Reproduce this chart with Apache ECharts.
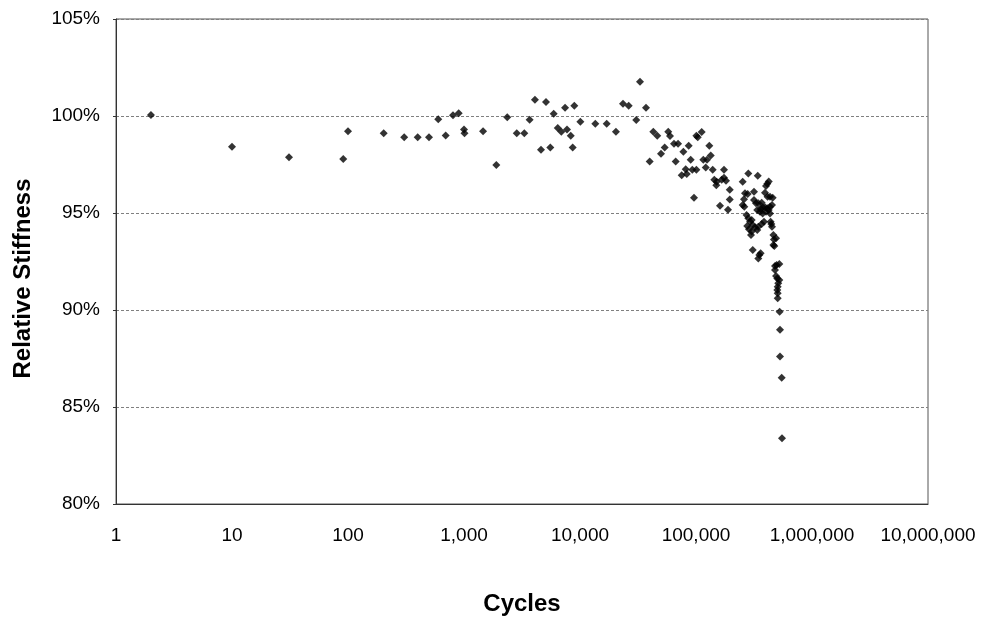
<!DOCTYPE html>
<html>
<head>
<meta charset="utf-8">
<title>Relative Stiffness vs Cycles</title>
<script src="https://cdn.jsdelivr.net/npm/echarts@6/dist/echarts.min.js"></script>
<style>
  html, body { margin: 0; padding: 0; background: #fff; }
  #chart { width: 991px; height: 621px; }
</style>
</head>
<body>
<div id="chart"></div>
<script>
// cycles (x, log scale) and relative stiffness in % (y)
var cycles = [
  2, 10, 31, 91, 100, 203, 305, 399, 499, 600,
  695, 804, 900, 1000, 1010, 1460, 1900, 2360, 2850, 3310,
  3680, 4090, 4610, 5090, 5550, 5930, 6430, 6900, 7430, 7730,
  8320, 8650, 8930, 10070, 13550, 16980, 20420, 23480, 26300, 32890,
  30550, 37070, 39900, 42850, 46360, 49890, 53700, 57680, 59700, 64600,
  70000, 66800, 77800, 86500, 90000, 75300, 81500, 83200, 92900, 100700,
  96100, 100700, 103500, 112000, 130300, 134000, 115600, 124400, 121300, 139300,
  174300, 143800, 150800, 149600, 166600, 174300, 181400, 195300, 195300, 161000,
  188800, 252700, 282600, 340600, 316200, 423600, 412000, 401200, 458400, 264400,
  279000, 259200, 393600, 414000, 434500, 252700, 260900, 316200, 329000, 344500,
  368200, 375600, 393600, 360600, 337400, 356300, 375600, 401200, 423600, 434500,
  412000, 434500, 451900, 272900, 282600, 302000, 292400, 308300, 322800, 337400,
  276600, 286400, 302000, 297900, 344500, 368200, 385500, 439800, 445900, 451900,
  308300, 360600, 351600, 344500, 464500, 470000, 489800, 464500, 473000, 522400,
  495500, 479800, 479800, 489800, 502600, 522400, 511900, 505800, 502600, 505800,
  505800, 526000, 530000, 530000, 548000, 551000
];
var stiffness = [
  100.05, 98.42, 97.87, 97.78, 99.21, 99.11, 98.9, 98.9, 98.9, 99.83,
  99.0, 100.04, 100.14, 99.31, 99.11, 99.21, 97.47, 99.93, 99.11, 99.11,
  99.81, 100.84, 98.26, 100.72, 98.37, 100.12, 99.38, 99.19, 100.43, 99.31,
  98.98, 98.37, 100.53, 99.71, 99.6, 99.6, 99.19, 100.63, 100.53, 101.77,
  99.79, 100.43, 97.66, 99.19, 98.98, 98.06, 98.37, 99.19, 98.97, 98.57,
  98.57, 97.66, 98.16, 98.47, 97.75, 96.94, 97.25, 97.01, 97.23, 97.23,
  95.79, 98.98, 98.9, 99.18, 98.47, 97.97, 97.75, 97.75, 97.34, 97.23,
  97.23, 96.72, 96.61, 96.43, 96.72, 96.82, 96.66, 96.2, 95.69, 95.38,
  95.17, 96.61, 97.03, 96.92, 96.1, 96.63, 96.51, 96.39, 95.79, 96.02,
  95.98, 95.71, 96.05, 95.84, 95.84, 95.41, 95.32, 95.67, 95.5, 95.5,
  95.53, 95.29, 95.29, 95.21, 95.15, 95.07, 94.98, 95.07, 95.15, 94.98,
  95.24, 95.32, 95.41, 94.9, 94.73, 94.64, 94.55, 94.38, 94.26, 94.12,
  94.33, 94.16, 94.04, 93.87, 94.29, 94.43, 94.55, 94.55, 94.43, 94.29,
  93.09, 92.92, 92.84, 92.66, 93.87, 93.64, 93.7, 93.35, 93.3, 92.37,
  92.32, 92.27, 92.06, 91.75, 91.63, 91.55, 91.38, 91.2, 91.03, 90.86,
  90.6, 89.91, 88.98, 87.6, 86.51, 83.39
];

var xTitle = 'Cycles';
var yTitle = 'Relative Stiffness';

var points = cycles.map(function (c, i) {
  return [c, stiffness[i]];
});

var chart = echarts.init(document.getElementById('chart'), null, { renderer: 'canvas' });

var labelFont = {
  color: '#000',
  fontFamily: 'Liberation Sans, Arial, sans-serif',
  fontSize: 19
};

var option = {
  backgroundColor: '#fff',
  animation: false,
  grid: {
    left: 116,
    top: 19,
    right: 63,
    bottom: 117,
    show: true,
    borderColor: '#555',
    borderWidth: 1
  },
  xAxis: {
    type: 'log',
    logBase: 10,
    min: 1,
    max: 10000000,
    name: xTitle,
    nameLocation: 'middle',
    nameGap: 88,
    nameTextStyle: {
      color: '#000',
      fontFamily: 'Liberation Sans, Arial, sans-serif',
      fontSize: 24,
      fontWeight: 'bold'
    },
    axisLine: { show: true, lineStyle: { color: '#333', width: 1 } },
    axisTick: { show: false },
    minorTick: { show: false },
    splitLine: { show: false },
    axisLabel: Object.assign({
      margin: 22,
      formatter: function (v) {
        return Math.round(v).toLocaleString('en-US');
      }
    }, labelFont)
  },
  yAxis: {
    type: 'value',
    min: 80,
    max: 105,
    interval: 5,
    name: yTitle,
    nameLocation: 'middle',
    nameGap: 81,
    nameTextStyle: {
      color: '#000',
      fontFamily: 'Liberation Sans, Arial, sans-serif',
      fontSize: 24,
      fontWeight: 'bold',
      padding: [0, 34, 0, 0]
    },
    axisLine: { show: true, lineStyle: { color: '#333', width: 1 } },
    axisTick: { show: true, length: 3, lineStyle: { color: '#333' } },
    splitLine: {
      show: true,
      lineStyle: { color: '#808080', type: [3, 2], width: 1 }
    },
    axisLabel: Object.assign({
      margin: 16,
      formatter: '{value}%'
    }, labelFont)
  },
  series: [
    {
      type: 'scatter',
      symbol: 'diamond',
      symbolSize: 8,
      itemStyle: { color: '#000' },
      data: points
    }
  ]
};

chart.setOption(option);
</script>
</body>
</html>
